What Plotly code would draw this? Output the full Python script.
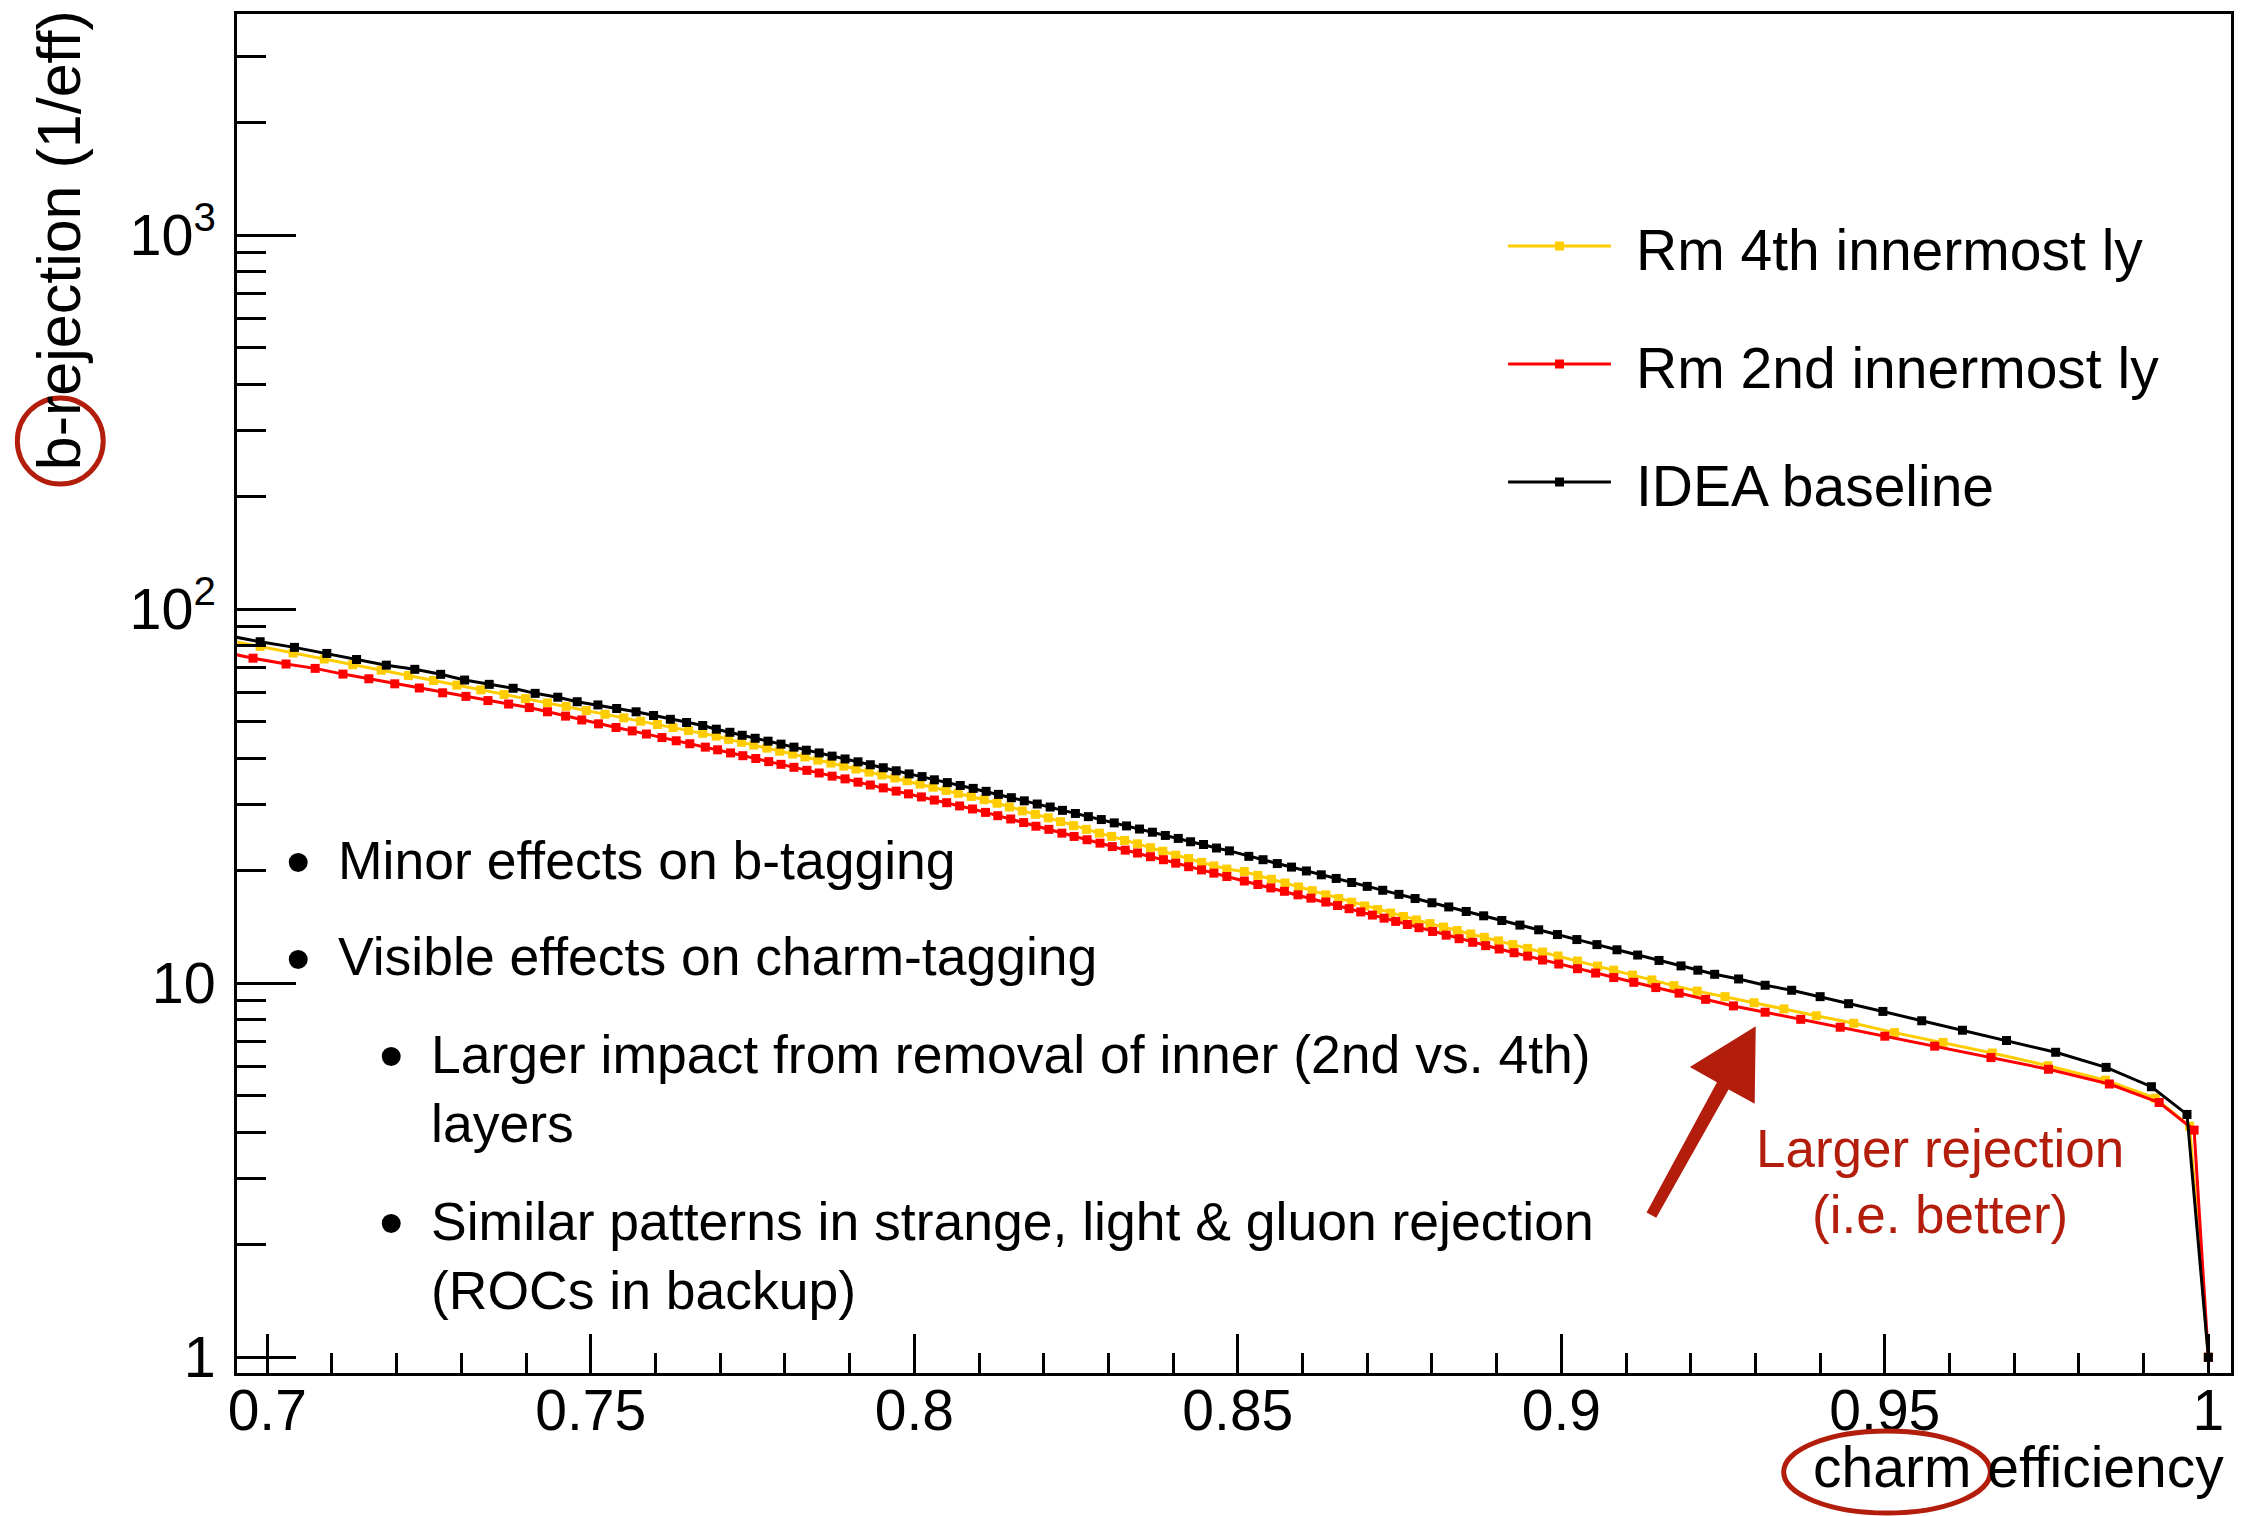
import plotly.graph_objects as go

# Charm-tagging ROC curves: b-jet rejection (1/eff) versus charm efficiency

eff_4th = [0.6936, 0.6989, 0.7040, 0.7088, 0.7132, 0.7176, 0.7218, 0.7257, 0.7293, 0.7330,
           0.7366, 0.7399, 0.7433, 0.7462, 0.7493, 0.7522, 0.7551, 0.7577, 0.7603, 0.7627,
           0.7651, 0.7673, 0.7694,
           0.7713, 0.7733, 0.7752, 0.7772, 0.7792, 0.7812, 0.7831, 0.7851, 0.7871, 0.7891,
           0.7910, 0.7930, 0.7950, 0.7970, 0.7989, 0.8009, 0.8029, 0.8049, 0.8068, 0.8088,
           0.8108, 0.8128, 0.8147, 0.8167, 0.8187, 0.8207, 0.8226, 0.8246, 0.8266, 0.8286,
           0.8305, 0.8325, 0.8345, 0.8365, 0.8384, 0.8404, 0.8424, 0.8444, 0.8463, 0.8483,
           0.8510, 0.8531, 0.8552, 0.8573, 0.8594, 0.8615, 0.8636, 0.8656, 0.8676, 0.8696,
           0.8716, 0.8736, 0.8756, 0.8776, 0.8797, 0.8818, 0.8839, 0.8860, 0.8881, 0.8903,
           0.8925, 0.8948, 0.8971, 0.8995, 0.9025, 0.9056, 0.9081, 0.9110, 0.9140, 0.9174,
           0.9210, 0.9253,
           0.9298, 0.9344, 0.9394, 0.9452, 0.9515, 0.9590, 0.9666, 0.9752, 0.9841, 0.9918,
           0.9971, 1.0000]
rej_4th = [82.9, 79.6, 76.4, 73.6, 71.1, 68.7, 66.5, 64.5, 62.7, 60.9,
           59.2, 57.7, 56.2, 55.0, 53.6, 52.4, 51.25, 50.2, 49.2, 48.3,
           47.4, 46.6, 45.8,
           44.9, 44.1, 43.35, 42.55, 41.75, 41.0, 40.3, 39.5, 38.8, 38.1,
           37.4, 36.7, 36.05, 35.4, 34.8, 34.1, 33.45, 32.8, 32.2, 31.6,
           30.97, 30.3, 29.6, 28.9, 28.3, 27.7, 27.05, 26.4, 25.8, 25.2,
           24.7, 24.1, 23.6, 23.05, 22.55, 22.0, 21.55, 21.05, 20.6, 20.2,
           19.89, 19.43, 18.97, 18.54, 18.1, 17.69, 17.24, 16.85, 16.47, 16.1,
           15.75, 15.41, 15.09, 14.77, 14.44, 14.14, 13.84, 13.55, 13.27, 12.98,
           12.69, 12.4, 12.12, 11.83, 11.47, 11.12, 10.84, 10.52, 10.21, 9.86,
           9.53, 9.21,
           8.87, 8.54, 8.19, 7.82, 7.38, 6.95, 6.51, 6.02, 5.51, 4.93,
           4.15, 1.0]

eff_2nd = [0.6930, 0.6978, 0.7029, 0.7074, 0.7117, 0.7157, 0.7197, 0.7235, 0.7271, 0.7307,
           0.7341, 0.7373, 0.7405, 0.7433, 0.7461, 0.7486, 0.7512, 0.7539, 0.7564, 0.7586,
           0.7610, 0.7632, 0.7653, 0.7677, 0.7696,
           0.7716, 0.7735, 0.7755, 0.7775, 0.7794, 0.7814, 0.7834, 0.7853, 0.7873, 0.7893,
           0.7913, 0.7932, 0.7952, 0.7972, 0.7991, 0.8011, 0.8031, 0.8050, 0.8070, 0.8090,
           0.8110, 0.8129, 0.8149, 0.8169, 0.8188, 0.8208, 0.8228, 0.8247, 0.8267, 0.8287,
           0.8306, 0.8326, 0.8345, 0.8365, 0.8385, 0.8404, 0.8424, 0.8444, 0.8463, 0.8483,
           0.8510, 0.8531, 0.8551, 0.8572, 0.8593, 0.8613, 0.8636, 0.8654, 0.8672, 0.8690,
           0.8708, 0.8726, 0.8744, 0.8762, 0.8780, 0.8801, 0.8822, 0.8842, 0.8863, 0.8883,
           0.8904, 0.8927, 0.8948, 0.8971, 0.8996, 0.9025, 0.9053, 0.9081, 0.9112, 0.9146,
           0.9182, 0.9223, 0.9266,
           0.9315, 0.9370, 0.9431, 0.9500, 0.9577, 0.9664, 0.9753, 0.9847, 0.9924, 0.9978,
           1.0000]
rej_2nd = [77.0, 74.0, 71.4, 69.5, 67.1, 65.2, 63.2, 61.6, 59.8, 58.5,
           57.0, 55.8, 54.6, 53.2, 51.8, 50.6, 49.4, 48.3, 47.3, 46.4,
           45.4, 44.5, 43.7, 42.8, 42.1,
           41.3, 40.6, 39.9, 39.15, 38.5, 37.8, 37.1, 36.5, 35.8, 35.2,
           34.5, 33.9, 33.3, 32.65, 32.1, 31.5, 30.9, 30.4, 29.8, 29.25,
           28.64, 28.06, 27.5, 26.9, 26.3, 25.8, 25.2, 24.7, 24.2, 23.7,
           23.2, 22.7, 22.3, 21.8, 21.4, 20.95, 20.5, 20.1, 19.7, 19.3,
           18.77, 18.37, 17.99, 17.62, 17.24, 16.89, 16.49, 16.14, 15.83, 15.52,
           15.22, 14.93, 14.64, 14.36, 14.08, 13.76, 13.45, 13.16, 12.87, 12.61,
           12.35, 12.07, 11.82, 11.54, 11.26, 10.94, 10.65, 10.36, 10.06, 9.74,
           9.41, 9.06, 8.70,
           8.37, 8.01, 7.63, 7.22, 6.79, 6.33, 5.89, 5.38, 4.80, 4.05,
           1.0]

eff_base = [0.6936, 0.6989, 0.7042, 0.7092, 0.7138, 0.7184, 0.7228, 0.7268, 0.7305, 0.7343,
            0.7380, 0.7414, 0.7449, 0.7479, 0.7511, 0.7540, 0.7570, 0.7597, 0.7623, 0.7648,
            0.7673, 0.7694,
            0.7715, 0.7734, 0.7754, 0.7774, 0.7794, 0.7814, 0.7833, 0.7853, 0.7873, 0.7893,
            0.7913, 0.7932, 0.7952, 0.7972, 0.7992, 0.8012, 0.8031, 0.8051, 0.8071, 0.8091,
            0.8111, 0.8130, 0.8150, 0.8170, 0.8190, 0.8210, 0.8229, 0.8249, 0.8269, 0.8289,
            0.8309, 0.8328, 0.8348, 0.8368, 0.8388, 0.8408, 0.8427, 0.8447, 0.8467, 0.8487,
            0.8517, 0.8539, 0.8561, 0.8583, 0.8606, 0.8629, 0.8652, 0.8676, 0.8700, 0.8724,
            0.8749, 0.8774, 0.8800, 0.8826, 0.8853, 0.8880, 0.8908, 0.8936, 0.8965, 0.8994,
            0.9024, 0.9055, 0.9086, 0.9118, 0.9151, 0.9185, 0.9211, 0.9237,
            0.9274, 0.9315, 0.9356, 0.9400, 0.9444, 0.9497, 0.9557, 0.9620, 0.9688, 0.9764,
            0.9842, 0.9912, 0.9967, 1.0000]
rej_base = [85.2, 81.9, 79.1, 76.2, 73.4, 70.9, 69.1, 67.0, 64.7, 63.0,
            61.5, 59.6, 58.2, 56.6, 55.5, 54.3, 53.2, 52.0, 50.8, 49.8,
            48.9, 47.8,
            46.9, 46.05, 45.2, 44.4, 43.6, 42.8, 42.0, 41.3, 40.5, 39.8,
            39.1, 38.4, 37.7, 37.0, 36.3, 35.7, 35.0, 34.4, 33.8, 33.2,
            32.6, 32.0, 31.35, 30.75, 30.15, 29.6, 29.0, 28.45, 27.9, 27.4,
            26.85, 26.35, 25.85, 25.35, 24.85, 24.4, 23.9, 23.5, 23.0, 22.6,
            21.85, 21.4, 20.9, 20.45, 19.97, 19.5, 19.07, 18.6, 18.16, 17.73,
            17.29, 16.85, 16.42, 16.0, 15.56, 15.15, 14.72, 14.31, 13.9, 13.5,
            13.09, 12.69, 12.29, 11.9, 11.51, 11.13, 10.84, 10.57,
            10.27, 9.88, 9.58, 9.21, 8.82, 8.41, 7.94, 7.49, 7.03, 6.54,
            5.96, 5.29, 4.46, 1.0]

series_names = ["Rm 4th innermost ly", "Rm 2nd innermost ly", "IDEA baseline"]
series_colors = ["#FFCC00", "#FF0000", "#000000"]
series_eff = [eff_4th, eff_2nd, eff_base]
series_rej = [rej_4th, rej_2nd, rej_base]

notes_black = [
    ("•", "Minor effects on b-tagging", 0),
    ("•", "Visible effects on charm-tagging", 0),
    ("•", "Larger impact from removal of inner (2nd vs. 4th)", 1),
    ("", "layers", 1),
    ("•", "Similar patterns in strange, light & gluon rejection", 1),
    ("", "(ROCs in backup)", 1),
]
notes_red = ["Larger rejection", "(i.e. better)"]

FONT = "Liberation Sans, Arial, Helvetica, sans-serif"
RED_INK = "#B31D0C"

# canvas geometry (pixels)
W, H = 2244, 1516
ML, MR, MT, MB = 237, 10, 14, 143
PW = W - ML - MR
PH = H - MT - MB


def px(xp):
    return (xp - ML) / PW


def py(yp):
    return (H - MB - yp) / PH


fig = go.Figure()

for name, color, ex, ry in zip(series_names, series_colors, series_eff, series_rej):
    fig.add_trace(go.Scatter(
        x=ex, y=ry, name=name, mode="lines+markers",
        line=dict(color=color, width=3),
        marker=dict(symbol="square", size=9, color=color, line=dict(width=0)),
        showlegend=False, cliponaxis=True,
    ))

annotations = []
shapes = []

# legend drawn by hand: long line sample with a square marker in the middle
legend_rows = [(246, 250), (364, 368), (482, 486)]
for (ly, ty), name, color in zip(legend_rows, series_names, series_colors):
    shapes.append(dict(type="line", xref="paper", yref="paper",
                       x0=px(1510), x1=px(1613), y0=py(ly), y1=py(ly),
                       line=dict(color=color, width=3)))
    shapes.append(dict(type="rect", xref="paper", yref="paper",
                       x0=px(1557), x1=px(1566), y0=py(ly - 4.5), y1=py(ly + 4.5),
                       fillcolor=color, line=dict(width=0)))
    annotations.append(dict(xref="paper", yref="paper", x=px(1636), y=py(ty),
                            xanchor="left", yanchor="middle", showarrow=False,
                            text=name, font=dict(family=FONT, size=57, color="black")))

# bullet list
note_rows = [860, 957, 1054, 1123, 1221, 1290]
for (bullet, text, level), yc in zip(notes_black, note_rows):
    bx = 299 if level == 0 else 392
    tx = 336 if level == 0 else 429
    if bullet:
        annotations.append(dict(xref="paper", yref="paper", x=px(bx), y=py(yc + 2),
                                xanchor="center", yanchor="middle", showarrow=False,
                                text=bullet, font=dict(family=FONT, size=70, color="black")))
    annotations.append(dict(xref="paper", yref="paper", x=px(tx), y=py(yc),
                            xanchor="left", yanchor="middle", showarrow=False,
                            text=text, font=dict(family=FONT, size=53.5, color="black")))

# red remark
for text, yc in zip(notes_red, [1148, 1214]):
    annotations.append(dict(xref="paper", yref="paper", x=px(1943), y=py(yc),
                            xanchor="center", yanchor="middle", showarrow=False,
                            text=text, font=dict(family=FONT, size=53, color=RED_INK)))

# axis titles, ROOT style (aligned to the far end of each axis)
annotations.append(dict(xref="paper", yref="paper", x=px(2229), y=py(1467),
                        xanchor="right", yanchor="middle", showarrow=False,
                        text="charm efficiency", font=dict(family=FONT, size=57, color="black")))
annotations.append(dict(xref="paper", yref="paper", x=px(59), y=py(8),
                        xanchor="center", yanchor="top", showarrow=False, textangle=-90,
                        text="b-rejection (1/eff)", font=dict(family=FONT, size=61, color="black")))

# hand-drawn style arrow pointing at the curves
arrow_pts = [(1757, 1028), (1756, 1102), (1730.5, 1088), (1658, 1216.5),
             (1650, 1212), (1720.5, 1082), (1694, 1067)]
path = "M " + " L ".join(f"{px(a):.5f},{py(b):.5f}" for a, b in arrow_pts) + " Z"
shapes.append(dict(type="path", xref="paper", yref="paper", path=path,
                   fillcolor=RED_INK, line=dict(color=RED_INK, width=2)))

# circles around "b" and "charm"
shapes.append(dict(type="circle", xref="paper", yref="paper",
                   x0=px(17), x1=px(103), y0=py(484), y1=py(398),
                   line=dict(color=RED_INK, width=5)))
shapes.append(dict(type="circle", xref="paper", yref="paper",
                   x0=px(1786), x1=px(1993), y0=py(1513), y1=py(1431),
                   line=dict(color=RED_INK, width=5)))

fig.update_layout(
    width=W, height=H,
    margin=dict(l=ML, r=MR, t=MT, b=MB, pad=0),
    paper_bgcolor="white", plot_bgcolor="white",
    font=dict(family=FONT, color="black"),
    showlegend=False,
    annotations=annotations,
    shapes=shapes,
)

fig.update_xaxes(
    range=[0.69532, 1.0035], tick0=0.7, dtick=0.05,
    ticks="inside", ticklen=39, tickwidth=3, tickcolor="black",
    showline=True, linewidth=3, linecolor="black", mirror=True,
    showgrid=False, zeroline=False,
    tickfont=dict(family=FONT, size=57, color="black"),
    ticklabelstandoff=-14,
    minor=dict(dtick=0.01, tick0=0.7, ticks="inside", ticklen=20, tickwidth=3,
               tickcolor="black", showgrid=False),
)
fig.update_yaxes(
    type="log", range=[-0.042, 3.5917], dtick=1, exponentformat="power",
    ticks="inside", ticklen=59, tickwidth=3, tickcolor="black",
    showline=True, linewidth=3, linecolor="black", mirror=True,
    showgrid=False, zeroline=False,
    tickfont=dict(family=FONT, size=46, color="black"),
    ticklabelstandoff=9,
    minor=dict(dtick="D1", ticks="inside", ticklen=29, tickwidth=3,
               tickcolor="black", showgrid=False),
)

fig.write_html("out.html")
